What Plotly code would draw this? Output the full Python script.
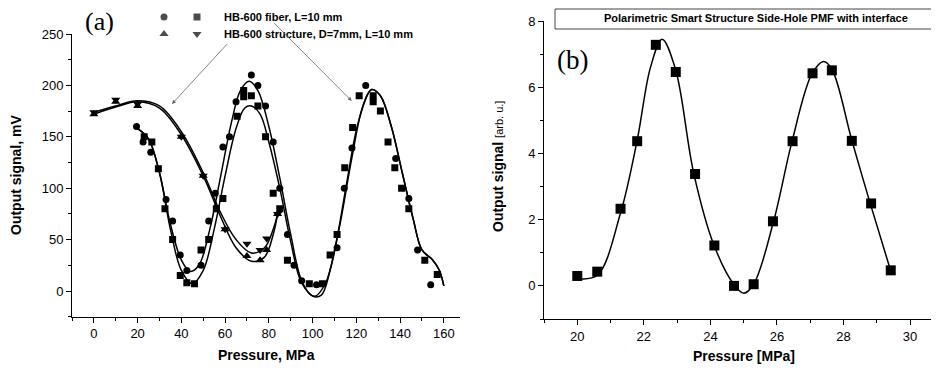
import plotly.graph_objects as go

# ---------------- Panel (a) data ----------------
circ_x = [19.5, 22.5, 26.0, 33.0, 36.0, 39.5, 42.5, 49.0, 52.5, 55.5, 59.0, 62.0, 65.0, 72.0, 75.0,
          78.5, 82.0, 85.0, 88.5, 91.5, 95.0, 101.8, 111.2, 114.5, 118.0, 124.3, 138.0, 144.0, 148.0, 154.0]
circ_y = [160, 145, 135, 89, 68, 35, 20, 25, 68, 95, 140, 150, 184, 210, 200,
          180, 145, 100, 55, 25, 10, 6, 42, 100, 139, 200, 129, 90, 40, 6]

sq_x = [23.0, 26.5, 29.5, 32.5, 36.0, 39.5, 42.5, 46.0, 49.0, 52.5, 56.0, 59.0, 65.5, 68.5, 68.5,
        72.0, 75.0, 78.5, 82.0, 85.0, 88.5, 98.5, 104.5, 108.0, 111.2, 114.7, 118.3, 121.3, 127.7,
        127.7, 131.0, 134.5, 137.6, 140.7, 144.0, 151.3, 157.0]
sq_y = [150, 145, 119, 80, 50, 15, 8, 7, 40, 50, 80, 90, 170, 195, 189,
        190, 180, 150, 95, 80, 30, 7, 7, 35, 55, 120, 159, 190, 190,
        184, 175, 145, 120, 100, 80, 30, 16]

tu_x = [0, 10, 20, 40, 50, 60, 70, 76, 79, 84]
tu_y = [172, 184, 180, 150, 112, 60, 34, 30, 40, 75]
td_x = [0, 10, 20, 40, 50, 60, 70, 76, 79, 84]
td_y = [174, 186, 182, 150, 112, 60, 46, 40, 51, 75]

# fitted curves (knots)
fit_c_x = [20, 25, 30, 35, 40, 44, 48, 53, 58, 63, 67, 71, 75, 80, 85, 90, 95, 100, 104, 108, 113,
           118, 123, 127, 131, 136, 141, 146, 150, 155, 158, 160]
fit_c_y = [158, 148, 115, 65, 30, 19, 25, 60, 112, 165, 195, 204, 195, 160, 110, 55, 10, -5, -4, 20, 70,
           130, 180, 196, 190, 160, 115, 70, 40, 30, 20, 5]
fit_s_x = [20, 25, 30, 35, 40, 45, 50, 55, 60, 65, 69, 72, 76, 80, 85, 90, 95, 101, 106, 111, 116,
           121, 127, 131, 136, 141, 146, 150, 155, 158, 160]
fit_s_y = [158, 148, 115, 60, 20, 7, 20, 60, 112, 158, 178, 180, 172, 145, 100, 48, 8, -5, 8, 50, 110,
           165, 196, 190, 160, 115, 70, 40, 30, 20, 5]
fit_tu_x = [0, 10, 20, 30, 40, 50, 58, 65, 72, 78, 82, 84]
fit_tu_y = [172, 179, 184, 178, 152, 112, 72, 42, 29, 33, 55, 75]
fit_td_x = [0, 10, 20, 30, 40, 50, 58, 65, 72, 78, 82, 84]
fit_td_y = [174, 180, 185, 180, 155, 115, 76, 50, 37, 42, 60, 75]

# ---------------- Panel (b) data ----------------
b_x = [20.0, 20.6, 21.3, 21.8, 22.36, 22.96, 23.54, 24.12, 24.71, 25.3, 25.88, 26.47, 27.07, 27.65,
       28.25, 28.83, 29.42]
b_y = [0.30, 0.43, 2.33, 4.37, 7.28, 6.46, 3.38, 1.22, 0.0, 0.05, 1.95, 4.37, 6.42, 6.51,
       4.38, 2.49, 0.47]
b_fit_x = [20.0, 20.6, 21.3, 21.8, 22.2, 22.55, 22.95, 23.5, 24.1, 24.7, 25.0, 25.3, 25.9, 26.45,
           27.05, 27.4, 27.65, 28.25, 28.8, 29.42]
b_fit_y = [0.22, 0.32, 2.2, 4.4, 6.6, 7.45, 6.55, 3.4, 1.25, 0.05, -0.22, 0.05, 1.95, 4.35,
           6.4, 6.78, 6.55, 4.4, 2.5, 0.45]

legend_a = ["HB-600 fiber, L=10 mm", "HB-600 structure, D=7mm, L=10 mm"]
legend_b = "Polarimetric Smart Structure Side-Hole PMF with interface"

FONT = "Liberation Sans, Arial, sans-serif"
W, H = 939, 369
OFF = 8  # page body margin in the browser


def px_x(p):
    return (p - OFF) / W


def px_y(p):
    return 1 - (p - OFF) / H


fig = go.Figure()
line = dict(color="black", width=1.5, shape="spline", smoothing=1.0)

for fx, fy in [(fit_c_x, fit_c_y), (fit_s_x, fit_s_y), (fit_tu_x, fit_tu_y), (fit_td_x, fit_td_y)]:
    fig.add_trace(go.Scatter(x=fx, y=fy, mode="lines", line=line, showlegend=False,
                             xaxis="x", yaxis="y", hoverinfo="skip"))

mk = dict(color="black", line=dict(width=0))
fig.add_trace(go.Scatter(x=circ_x, y=circ_y, mode="markers", marker=dict(symbol="circle", size=7, **mk),
                         showlegend=False, xaxis="x", yaxis="y"))
fig.add_trace(go.Scatter(x=sq_x, y=sq_y, mode="markers", marker=dict(symbol="square", size=7, **mk),
                         showlegend=False, xaxis="x", yaxis="y"))
fig.add_trace(go.Scatter(x=tu_x, y=tu_y, mode="markers", marker=dict(symbol="triangle-up", size=8, **mk),
                         showlegend=False, xaxis="x", yaxis="y"))
fig.add_trace(go.Scatter(x=td_x, y=td_y, mode="markers", marker=dict(symbol="triangle-down", size=8, **mk),
                         showlegend=False, xaxis="x", yaxis="y"))

# legend symbols of panel (a) on a hidden helper axis
fig.add_trace(go.Scatter(x=[14, 47, 14, 47], y=[24, 24, 7, 7], mode="markers",
                         marker=dict(symbol=["circle", "square", "triangle-up", "triangle-down"],
                                     size=[7, 7, 8, 8], **mk),
                         showlegend=False, xaxis="x3", yaxis="y3", hoverinfo="skip"))

# panel (b)
fig.add_trace(go.Scatter(x=b_fit_x, y=b_fit_y, mode="lines", line=line, showlegend=False,
                         xaxis="x2", yaxis="y2", hoverinfo="skip"))
fig.add_trace(go.Scatter(x=b_x, y=b_y, mode="markers", marker=dict(symbol="square", size=10, **mk),
                         showlegend=False, xaxis="x2", yaxis="y2"))

base = dict(showline=True, linecolor="black", linewidth=1, ticks="outside", ticklen=5,
            tickwidth=1, tickcolor="black", showgrid=False, zeroline=False, automargin=False,
            tickfont=dict(family=FONT, size=13, color="black"))
minor = dict(ticks="outside", ticklen=3, tickwidth=1, tickcolor="black", showgrid=False)

fig.update_layout(
    width=W, height=H, margin=dict(l=0, r=0, t=0, b=0, autoexpand=False),
    paper_bgcolor="white", plot_bgcolor="white", showlegend=False,
    font=dict(family=FONT, color="black"),
    xaxis=dict(domain=[px_x(72), px_x(460)], range=[-10, 167.4], tick0=0, dtick=20, anchor="y",
               minor=dict(dtick=10, **minor), **base),
    yaxis=dict(domain=[px_y(316.7), px_y(34)], range=[-25, 250], tick0=0, dtick=50, anchor="x",
               minor=dict(dtick=25, **minor), **base),
    xaxis2=dict(domain=[px_x(544), px_x(939)], range=[19, 30.87], tick0=20, dtick=2, anchor="y2",
                minor=dict(dtick=1, **minor), **base),
    yaxis2=dict(domain=[px_y(319), px_y(21)], range=[-1, 8], tick0=0, dtick=2, anchor="x2",
                minor=dict(dtick=1, **minor), **base),
    xaxis3=dict(domain=[px_x(150), px_x(210)], range=[0, 60], visible=False, anchor="y3"),
    yaxis3=dict(domain=[px_y(41), px_y(10)], range=[0, 31], visible=False, anchor="x3"),
)


def note(text, x, y, size, family=FONT, xanchor="center", angle=0):
    return dict(text=text, x=px_x(x), y=px_y(y), xref="paper", yref="paper", showarrow=False,
                xanchor=xanchor, yanchor="middle", textangle=angle,
                font=dict(family=family, size=size, color="black"))


SERIF = "Liberation Serif, Times New Roman, serif"
ann = [
    note("(a)", 99, 22, 26, SERIF),
    note("(b)", 572, 60, 27, SERIF),
    note("<b>" + legend_a[0] + "</b>", 222, 17, 11, xanchor="left"),
    note("<b>" + legend_a[1] + "</b>", 222, 34, 11, xanchor="left"),
    note("<b>" + legend_b + "</b>", 756, 18.5, 11),
    note("<b>Output signal, mV</b>", 16, 175, 14, angle=-90),
    note("<b>Pressure, MPa</b>", 266, 355, 14),
    note("<b>Output signal</b> <span style='font-size:11px'>[arb. u.]</span>", 498, 167, 14, angle=-90),
    note("<b>Pressure [MPa]</b>", 744, 356, 14),
]
# arrows from legend to curves
ann.append(dict(x=35.7, y=181.9, ax=61.7, ay=242, xref="x", yref="y", axref="x", ayref="y",
                showarrow=True, arrowhead=2, arrowsize=1, arrowwidth=0.8, arrowcolor="#666", text=""))
ann.append(dict(x=117.9, y=184.8, ax=81.8, ay=262, xref="x", yref="y", axref="x", ayref="y",
                showarrow=True, arrowhead=2, arrowsize=1, arrowwidth=0.8, arrowcolor="#666", text=""))
fig.update_layout(annotations=ann)

fig.add_shape(type="rect", xref="paper", yref="paper", x0=px_x(555), x1=px_x(938.5), y0=px_y(29), y1=px_y(9),
              line=dict(color="#444", width=1), fillcolor="rgba(0,0,0,0)")

fig.write_html("out.html")
